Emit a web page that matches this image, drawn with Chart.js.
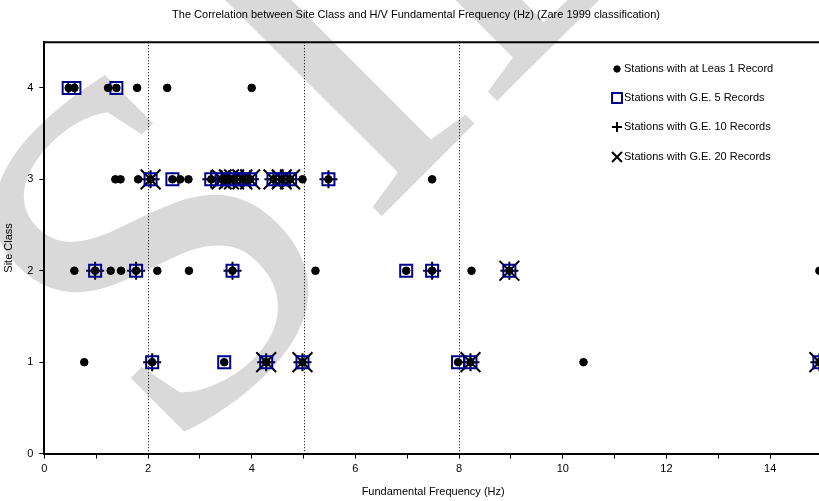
<!DOCTYPE html>
<html>
<head>
<meta charset="utf-8">
<script src="https://cdn.jsdelivr.net/npm/chart.js@4.4.1/dist/chart.umd.min.js"></script>
<style>
  html, body { margin: 0; padding: 0; background: #fff; overflow: hidden; }
  #wrap { position: relative; width: 838px; height: 501px; }
</style>
</head>
<body>
<div id="wrap"><canvas id="siteChart"></canvas></div>
<script>
// stations: fundamental frequency (Hz), site class, number of records (min of group)
const stationFreq = [
    0.47, 0.58, 1.23, 1.39, 1.79, 2.37, 4.0,
    1.37, 1.47, 1.81, 2.05, 2.47, 2.62, 2.78, 3.22, 3.42, 3.56, 3.66, 3.82, 3.97, 4.42, 4.58, 4.74, 4.98, 5.48, 7.48,
    0.58, 0.98, 1.28, 1.48, 1.77, 2.18, 2.79, 3.63, 5.23, 6.98, 7.48, 8.24, 8.97, 14.95,
    0.77, 2.08, 3.47, 4.28, 4.98, 7.98, 8.22, 10.4, 14.95
];
const stationClass = [
    4, 4, 4, 4, 4, 4, 4,
    3, 3, 3, 3, 3, 3, 3, 3, 3, 3, 3, 3, 3, 3, 3, 3, 3, 3, 3,
    2, 2, 2, 2, 2, 2, 2, 2, 2, 2, 2, 2, 2, 2,
    1, 1, 1, 1, 1, 1, 1, 1, 1
];
const stationRecords = [
    5, 5, 1, 5, 1, 1, 1,
    1, 1, 1, 20, 5, 1, 1, 10, 20, 20, 20, 20, 20, 20, 20, 20, 1, 10, 1,
    1, 10, 1, 1, 10, 1, 1, 10, 1, 5, 10, 1, 20, 1,
    1, 10, 5, 20, 20, 5, 20, 1, 20
];

const xTicks = [0, 2, 4, 6, 8, 10, 12, 14];
const yTicks = [0, 1, 2, 3, 4];
const zoneLines = [2, 5, 8];

const groupLabels = [
    "Stations with at Leas 1 Record",
    "Stations with G.E. 5 Records",
    "Stations with G.E. 10 Records",
    "Stations with G.E. 20 Records"
];
const groupMin = [1, 5, 10, 20];

function pointsFor(min) {
    const pts = [];
    for (let i = 0; i < stationFreq.length; i++) {
        if (stationRecords[i] >= min) pts.push({ x: stationFreq[i], y: stationClass[i] });
    }
    return pts;
}

const styles = [
    { pointStyle: "circle", radius: 3.8, bg: "#000", border: "#000", bw: 1, legendR: 3.2 },
    { pointStyle: "rect", radius: 8.5, bg: "rgba(0,0,0,0)", border: "#00008b", bw: 2, legendR: 7 },
    { pointStyle: "cross", radius: 9, bg: "#000", border: "#000", bw: 2, legendR: 5 },
    { pointStyle: "crossRot", radius: 14, bg: "#000", border: "#000", bw: 2, legendR: 7 }
];

// gray watermark behind everything
const watermark = {
    id: "watermark",
    beforeDraw(chart) {
        const ctx = chart.ctx;
        ctx.save();
        ctx.font = '500px "Liberation Serif"';
        ctx.fillStyle = "#d9d9d9";
        const wS = ctx.measureText("S").width;
        const wI = ctx.measureText("I").width;
        ctx.translate(428, 170);
        ctx.rotate(-Math.PI / 4);
        ctx.fillText("ID", -wI / 2, 0);
        ctx.fillText("S", -wS - wI / 2 - 30, 25);
        ctx.restore();
    }
};

// dotted zone lines, top frame and legend
const extras = {
    id: "extras",
    beforeDatasetsDraw(chart) {
        const ctx = chart.ctx;
        const a = chart.chartArea;
        const xs = chart.scales.x;
        ctx.save();
        ctx.strokeStyle = "#000";
        ctx.lineWidth = 1;
        ctx.setLineDash([1, 2]);
        zoneLines.forEach(v => {
            const px = Math.round(xs.getPixelForValue(v)) + 0.5;
            ctx.beginPath();
            ctx.moveTo(px, a.top);
            ctx.lineTo(px, a.bottom);
            ctx.stroke();
        });
        ctx.setLineDash([]);
        ctx.lineWidth = 2;
        ctx.beginPath();
        ctx.moveTo(a.left, a.top);
        ctx.lineTo(a.right, a.top);
        ctx.stroke();
        ctx.restore();
    },
    afterDraw(chart) {
        const ctx = chart.ctx;
        ctx.save();
        ctx.font = '11px "Liberation Sans"';
        ctx.fillStyle = "#000";
        ctx.textBaseline = "middle";
        const rowsY = [69, 98, 127, 157];
        groupLabels.forEach((lab, i) => {
            const s = styles[i];
            ctx.fillStyle = s.bg;
            ctx.strokeStyle = s.border;
            ctx.lineWidth = s.bw;
            Chart.helpers.drawPoint(ctx, { pointStyle: s.pointStyle, radius: s.legendR, borderWidth: s.bw }, 617, rowsY[i]);
            ctx.fillStyle = "#000";
            ctx.fillText(lab, 624, rowsY[i]);
        });
        ctx.restore();
    }
};

function loadSiteChart() {
    const ctx = document.getElementById("siteChart").getContext("2d");

    new Chart(ctx, {
        type: "scatter",
        data: {
            datasets: groupLabels.map((lab, i) => ({
                label: lab,
                data: pointsFor(groupMin[i]),
                pointStyle: styles[i].pointStyle,
                pointRadius: styles[i].radius,
                pointBackgroundColor: styles[i].bg,
                pointBorderColor: styles[i].border,
                pointBorderWidth: styles[i].bw
            }))
        },
        options: {
            responsive: true,
            maintainAspectRatio: false,
            animation: false,
            layout: { padding: { top: 4, left: 2, right: 8, bottom: 2 } },
            plugins: {
                legend: { display: false },
                tooltip: { enabled: false },
                title: {
                    display: true,
                    text: "The Correlation between Site Class and H/V Fundamental Frequency (Hz) (Zare 1999 classification)",
                    color: "#000",
                    font: { family: "Liberation Sans", size: 11, weight: "normal" },
                    padding: { top: 4, bottom: 21 }
                }
            },
            scales: {
                x: {
                    type: "linear",
                    min: 0,
                    max: 15,
                    afterBuildTicks: (s) => {
                        const t = [];
                        for (let v = 0; v <= 15; v++) t.push({ value: v });
                        s.ticks = t;
                    },
                    ticks: {
                        color: "#000",
                        font: { family: "Liberation Sans", size: 11 },
                        autoSkip: false,
                        maxRotation: 0,
                        padding: 4,
                        callback: (v) => xTicks.includes(v) ? String(v) : ""
                    },
                    grid: { drawOnChartArea: false, drawTicks: true, tickLength: 5, color: "#000", lineWidth: 1 },
                    border: { color: "#000", width: 2 },
                    title: {
                        display: true,
                        text: "Fundamental Frequency (Hz)",
                        color: "#000",
                        font: { family: "Liberation Sans", size: 11 },
                        padding: { top: 6, bottom: 0 }
                    }
                },
                y: {
                    type: "linear",
                    min: 0,
                    max: 4.5,
                    afterBuildTicks: (s) => { s.ticks = yTicks.map(v => ({ value: v })); },
                    ticks: {
                        color: "#000",
                        font: { family: "Liberation Sans", size: 11 },
                        padding: 6
                    },
                    grid: { drawOnChartArea: false, drawTicks: true, tickLength: 5, color: "#000", lineWidth: 1 },
                    border: { color: "#000", width: 2 },
                    title: {
                        display: true,
                        text: "Site Class",
                        color: "#000",
                        font: { family: "Liberation Sans", size: 11 },
                        padding: { top: 0, bottom: 6 }
                    }
                }
            }
        },
        plugins: [watermark, extras]
    });
}
document.addEventListener("DOMContentLoaded", loadSiteChart);
</script>
</body>
</html>
